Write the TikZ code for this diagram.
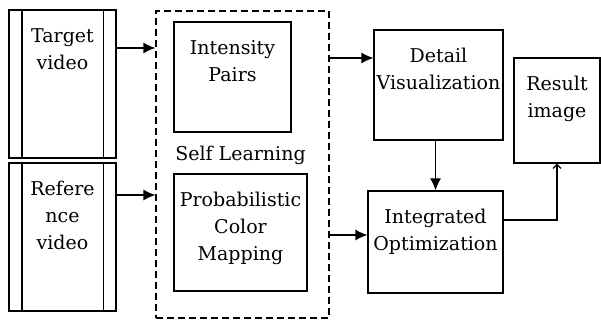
\documentclass[tikz,border=0pt]{standalone}
\usepackage{fontspec}
\setmainfont{DejaVu Serif}
\usetikzlibrary{arrows.meta}
\tikzstyle{block} = [rectangle, draw, inner sep=0pt, align=center,
text height=33pt, line width=1.2pt]
\tikzstyle{group} = [rectangle, draw, dash pattern=on 7pt off 4pt, inner sep=0pt,
minimum width=173pt, minimum height=307pt, line width=1.2pt]
\tikzstyle{line} = [draw, -{Latex[length=12pt,width=11pt]}, line width=1.2pt]
\tikzstyle{openline} = [draw, -{Straight Barb[length=4pt,width=8pt]}, line width=1.2pt]
\tikzstyle{strip} = [draw, line width=1.2pt]

\begin{document}
\begin{tikzpicture}[font=\fontsize{19}{27}\selectfont]
\useasboundingbox (0,0) rectangle (601pt,320pt);
% Place nodes
	\node [block, text width=107pt, text depth=115pt] (tgt) at (62.5pt,236pt) {Target\\video};
	\node [block, text width=107pt, text depth=115pt, below of=tgt, node distance=153pt] (ref) {Refere\\nce\\video};
	\node [group, right of=tgt, node distance=180pt, yshift=-80.5pt] (selfl) {};
	\node [block, text width=117pt, text depth=77pt, right of=tgt, node distance=170pt, yshift=7pt] (intp) {Intensity\\Pairs};
	\node [block, text width=133pt, text depth=84pt, right of=ref, node distance=178pt, yshift=4.5pt] (pcm) {Probabilistic\\Color\\Mapping};
	\node [anchor=base, xshift=-2pt, yshift=3.5pt] (sll) at (selfl.center) {Self Learning};
	\node [block, text width=129pt, text depth=77pt, right of=intp, node distance=206pt, yshift=-8pt] (det) {Detail\\Visualization};
	\node [block, text width=135pt, text depth=69pt, below of=det, node distance=157pt, xshift=-3pt] (integ) {Integrated\\Optimization};
	\node [block, text width=86pt, text depth=72pt, right of=det, node distance=118.5pt, yshift=-25.5pt] (res) {Result\\image};

% Film strip edges
	\draw [strip] ([xshift=13.5pt]tgt.north west) -- ([xshift=13.5pt]tgt.south west);
	\draw [strip] ([xshift=-13.5pt]tgt.north east) -- ([xshift=-13.5pt]tgt.south east);
	\draw [strip] ([xshift=13.5pt]ref.north west) -- ([xshift=13.5pt]ref.south west);
	\draw [strip] ([xshift=-13.5pt]ref.north east) -- ([xshift=-13.5pt]ref.south east);

% Draw edges
	\coordinate (in1) at ([yshift=36pt]tgt.east);
	\coordinate (in2) at ([yshift=42pt]ref.east);
	\coordinate (out1) at ([yshift=27pt]det.west);
	\coordinate (out2) at ([yshift=7pt]integ.west);
	\path [line] (in1) -- (in1 -| selfl.west);
	\path [line] (in2) -- (in2 -| selfl.west);
	\path [line] (out1 -| selfl.east) -- (out1);
	\path [line] (out2 -| selfl.east) -- (out2);
	\path [line] (integ.north |- det.south) -- (integ.north);
	\path [openline] ([yshift=22pt]integ.east) -| (res.south);

\end{tikzpicture}
\end{document}
